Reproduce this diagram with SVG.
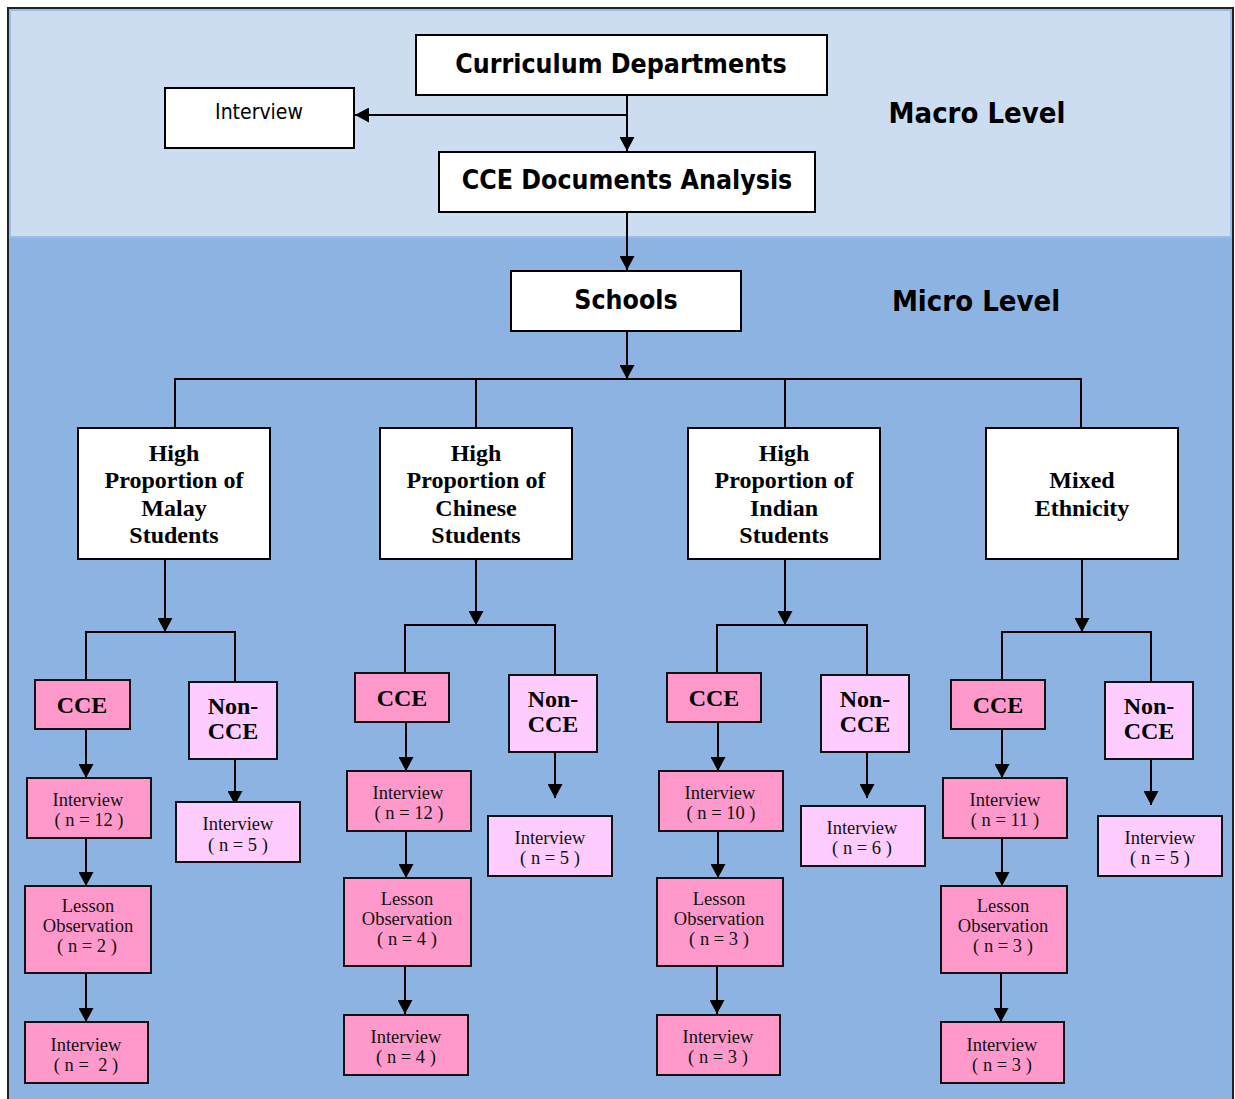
<svg xmlns="http://www.w3.org/2000/svg" width="1235" height="1099" viewBox="0 0 1235 1099">
<style>
.box{fill:#fff;stroke:#000;stroke-width:2}
.cce{fill:#FF99CC;stroke:#111;stroke-width:2}
.non{fill:#FFCCFF;stroke:#111;stroke-width:2}
.con{fill:none;stroke:#000;stroke-width:2}
.t1{font-family:"DejaVu Sans Condensed","DejaVu Sans",sans-serif;font-stretch:condensed;font-weight:bold;font-size:26.5px;text-anchor:middle;fill:#000}
.t2{font-family:"DejaVu Sans Condensed","DejaVu Sans",sans-serif;font-stretch:condensed;font-size:21px;text-anchor:middle;fill:#000}
.lvl{font-family:"DejaVu Sans Condensed","DejaVu Sans",sans-serif;font-stretch:condensed;font-weight:bold;font-size:29px;text-anchor:middle;fill:#000}
.eth{font-family:"Liberation Serif","Times New Roman",serif;font-weight:bold;font-size:24px;text-anchor:middle;fill:#000}
.cc{font-family:"Liberation Serif","Times New Roman",serif;font-weight:bold;font-size:24px;text-anchor:middle;fill:#000}
.sm{font-family:"Liberation Serif","Times New Roman",serif;font-size:18.5px;text-anchor:middle;fill:#111;white-space:pre}
</style>
<defs>
<marker id="ah" viewBox="0 0 14 15" refX="14" refY="7.5" markerWidth="14" markerHeight="15" markerUnits="userSpaceOnUse" orient="auto">
<path d="M0,0 L14,7.5 L0,15 z" fill="#000"/>
</marker>
</defs>
<rect x="0" y="0" width="1235" height="1099" fill="#fff"/>
<rect x="8" y="8" width="1225" height="1095" fill="#8DB3E2" stroke="#222" stroke-width="2"/>
<rect x="10" y="10" width="1221" height="227" fill="#CCDDF2" stroke="#9BBCE6" stroke-width="2"/>

<g id="connectors">
<path class="con" d="M627,95 V151" marker-end="url(#ah)"/>
<path class="con" d="M627,115 H355" marker-end="url(#ah)"/>
<path class="con" d="M627,212 V270" marker-end="url(#ah)"/>
<path class="con" d="M627,331 V379" marker-end="url(#ah)"/>
<path class="con" d="M175,428 V379 H1081 V428 M476,379 V428 M785,379 V428"/>
<!-- col1 -->
<path class="con" d="M165,559 V632" marker-end="url(#ah)"/>
<path class="con" d="M86,680 V632 H235 V683"/>
<path class="con" d="M86,729 V778" marker-end="url(#ah)"/>
<path class="con" d="M86,838 V886" marker-end="url(#ah)"/>
<path class="con" d="M86,973 V1022" marker-end="url(#ah)"/>
<path class="con" d="M235,759 V805" marker-end="url(#ah)"/>
<!-- col2 -->
<path class="con" d="M476,559 V625" marker-end="url(#ah)"/>
<path class="con" d="M405,673 V625 H555 V675"/>
<path class="con" d="M406,722 V771" marker-end="url(#ah)"/>
<path class="con" d="M406,831 V878" marker-end="url(#ah)"/>
<path class="con" d="M405,966 V1014" marker-end="url(#ah)"/>
<path class="con" d="M555,752 V798" marker-end="url(#ah)"/>
<!-- col3 -->
<path class="con" d="M785,559 V625" marker-end="url(#ah)"/>
<path class="con" d="M717,673 V625 H867 V675"/>
<path class="con" d="M718,722 V771" marker-end="url(#ah)"/>
<path class="con" d="M718,831 V878" marker-end="url(#ah)"/>
<path class="con" d="M717,966 V1014" marker-end="url(#ah)"/>
<path class="con" d="M867,752 V798" marker-end="url(#ah)"/>
<!-- col4 -->
<path class="con" d="M1082,559 V632" marker-end="url(#ah)"/>
<path class="con" d="M1002,680 V632 H1151 V682"/>
<path class="con" d="M1002,729 V778" marker-end="url(#ah)"/>
<path class="con" d="M1002,838 V886" marker-end="url(#ah)"/>
<path class="con" d="M1001,973 V1022" marker-end="url(#ah)"/>
<path class="con" d="M1151,759 V805" marker-end="url(#ah)"/>
</g>

<g id="curriculum"><rect class="box" x="416" y="35" width="411" height="60"/><text class="t1" x="621" y="73">Curriculum Departments</text></g>
<g id="interview-top"><rect class="box" x="165" y="88" width="189" height="60"/><text class="t2" x="259" y="119">Interview</text></g>
<g id="cce-docs"><rect class="box" x="439" y="152" width="376" height="60"/><text class="t1" x="627" y="189">CCE Documents Analysis</text></g>
<g id="macro"><text class="lvl" x="977" y="123">Macro Level</text></g>
<g id="schools"><rect class="box" x="511" y="271" width="230" height="60"/><text class="t1" x="626" y="309">Schools</text></g>
<g id="micro"><text class="lvl" x="976" y="311">Micro Level</text></g>

<g id="malay"><rect class="box" x="78" y="428" width="192" height="131"/>
<text class="eth" x="174"><tspan x="174" y="461">High</tspan><tspan x="174" y="488">Proportion of</tspan><tspan x="174" y="516">Malay</tspan><tspan x="174" y="543">Students</tspan></text></g>
<g id="chinese"><rect class="box" x="380" y="428" width="192" height="131"/>
<text class="eth" x="476"><tspan x="476" y="461">High</tspan><tspan x="476" y="488">Proportion of</tspan><tspan x="476" y="516">Chinese</tspan><tspan x="476" y="543">Students</tspan></text></g>
<g id="indian"><rect class="box" x="688" y="428" width="192" height="131"/>
<text class="eth" x="784"><tspan x="784" y="461">High</tspan><tspan x="784" y="488">Proportion of</tspan><tspan x="784" y="516">Indian</tspan><tspan x="784" y="543">Students</tspan></text></g>
<g id="mixed"><rect class="box" x="986" y="428" width="192" height="131"/>
<text class="eth" x="1082"><tspan x="1082" y="488">Mixed</tspan><tspan x="1082" y="516">Ethnicity</tspan></text></g>

<!-- column 1 -->
<g id="c1-cce"><rect class="cce" x="35" y="680" width="95" height="49"/><text class="cc" x="82" y="713">CCE</text></g>
<g id="c1-non"><rect class="non" x="189" y="682" width="88" height="77"/><text class="cc"><tspan x="233" y="714">Non-</tspan><tspan x="233" y="739">CCE</tspan></text></g>
<g id="c1-int"><rect class="cce" x="27" y="778" width="124" height="60"/><text class="sm"><tspan x="88" y="806">Interview</tspan><tspan x="89" y="826">( n = 12 )</tspan></text></g>
<g id="c1-les"><rect class="cce" x="25" y="886" width="126" height="87"/><text class="sm"><tspan x="88" y="912">Lesson</tspan><tspan x="88" y="932">Observation</tspan><tspan x="87" y="952">( n = 2 )</tspan></text></g>
<g id="c1-int2"><rect class="cce" x="25" y="1022" width="123" height="61"/><text class="sm"><tspan x="86" y="1051">Interview</tspan><tspan x="86" y="1071">( n =  2 )</tspan></text></g>
<g id="c1-nint"><rect class="non" x="176" y="802" width="124" height="60"/><text class="sm"><tspan x="238" y="830">Interview</tspan><tspan x="238" y="851">( n = 5 )</tspan></text></g>

<!-- column 2 -->
<g id="c2-cce"><rect class="cce" x="355" y="673" width="94" height="49"/><text class="cc" x="402" y="706">CCE</text></g>
<g id="c2-non"><rect class="non" x="509" y="675" width="88" height="77"/><text class="cc"><tspan x="553" y="707">Non-</tspan><tspan x="553" y="732">CCE</tspan></text></g>
<g id="c2-int"><rect class="cce" x="347" y="771" width="124" height="60"/><text class="sm"><tspan x="408" y="799">Interview</tspan><tspan x="409" y="819">( n = 12 )</tspan></text></g>
<g id="c2-les"><rect class="cce" x="344" y="878" width="127" height="88"/><text class="sm"><tspan x="407" y="905">Lesson</tspan><tspan x="407" y="925">Observation</tspan><tspan x="407" y="945">( n = 4 )</tspan></text></g>
<g id="c2-int2"><rect class="cce" x="344" y="1015" width="124" height="60"/><text class="sm"><tspan x="406" y="1043">Interview</tspan><tspan x="406" y="1063">( n = 4 )</tspan></text></g>
<g id="c2-nint"><rect class="non" x="488" y="816" width="124" height="60"/><text class="sm"><tspan x="550" y="844">Interview</tspan><tspan x="550" y="864">( n = 5 )</tspan></text></g>

<!-- column 3 -->
<g id="c3-cce"><rect class="cce" x="667" y="673" width="94" height="49"/><text class="cc" x="714" y="706">CCE</text></g>
<g id="c3-non"><rect class="non" x="821" y="675" width="88" height="77"/><text class="cc"><tspan x="865" y="707">Non-</tspan><tspan x="865" y="732">CCE</tspan></text></g>
<g id="c3-int"><rect class="cce" x="659" y="771" width="124" height="60"/><text class="sm"><tspan x="720" y="799">Interview</tspan><tspan x="721" y="819">( n = 10 )</tspan></text></g>
<g id="c3-les"><rect class="cce" x="657" y="878" width="126" height="88"/><text class="sm"><tspan x="719" y="905">Lesson</tspan><tspan x="719" y="925">Observation</tspan><tspan x="719" y="945">( n = 3 )</tspan></text></g>
<g id="c3-int2"><rect class="cce" x="657" y="1015" width="123" height="60"/><text class="sm"><tspan x="718" y="1043">Interview</tspan><tspan x="718" y="1063">( n = 3 )</tspan></text></g>
<g id="c3-nint"><rect class="non" x="801" y="806" width="124" height="60"/><text class="sm"><tspan x="862" y="834">Interview</tspan><tspan x="862" y="854">( n = 6 )</tspan></text></g>

<!-- column 4 -->
<g id="c4-cce"><rect class="cce" x="951" y="680" width="94" height="49"/><text class="cc" x="998" y="713">CCE</text></g>
<g id="c4-non"><rect class="non" x="1105" y="682" width="88" height="77"/><text class="cc"><tspan x="1149" y="714">Non-</tspan><tspan x="1149" y="739">CCE</tspan></text></g>
<g id="c4-int"><rect class="cce" x="943" y="778" width="124" height="60"/><text class="sm"><tspan x="1005" y="806">Interview</tspan><tspan x="1005" y="826">( n = 11 )</tspan></text></g>
<g id="c4-les"><rect class="cce" x="941" y="886" width="126" height="87"/><text class="sm"><tspan x="1003" y="912">Lesson</tspan><tspan x="1003" y="932">Observation</tspan><tspan x="1003" y="952">( n = 3 )</tspan></text></g>
<g id="c4-int2"><rect class="cce" x="941" y="1022" width="123" height="61"/><text class="sm"><tspan x="1002" y="1051">Interview</tspan><tspan x="1002" y="1071">( n = 3 )</tspan></text></g>
<g id="c4-nint"><rect class="non" x="1098" y="816" width="124" height="60"/><text class="sm"><tspan x="1160" y="844">Interview</tspan><tspan x="1160" y="864">( n = 5 )</tspan></text></g>
</svg>
